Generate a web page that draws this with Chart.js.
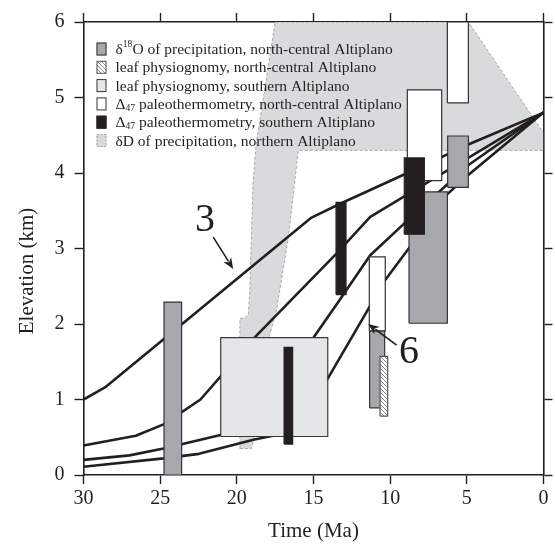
<!DOCTYPE html>
<html>
<head>
<meta charset="utf-8">
<script src="https://cdn.jsdelivr.net/npm/chart.js@4.4.1/dist/chart.umd.min.js"></script>
<style>
  html, body { margin: 0; padding: 0; background: #fff; }
  #wrap { width: 555px; height: 549px; }
</style>
</head>
<body>
<div id="wrap"><canvas id="elevChart" width="555" height="549"></canvas></div>
<script>
// ages in Ma, elevations in km
const ageTicks = [30, 25, 20, 15, 10, 5, 0];
const elevTicks = [0, 1, 2, 3, 4, 5, 6];

// modelled uplift paths, top one is labelled "3", the one at the white box "6"
const pathAAge  = [30, 28.6, 15.13, 13.3, 9.09, 4.87, 0];
const pathAElev = [1.0, 1.16, 3.41, 3.59, 3.98, 4.38, 4.8];
const pathBAge  = [30, 26.59, 24.78, 22.37, 18.85, 13.52, 11.3, 0];
const pathBElev = [0.39, 0.52, 0.67, 1.0, 1.82, 2.93, 3.42, 4.8];
const pathCAge  = [30, 27, 24.78, 21.06, 15.03, 13.42, 11.3, 9.09, 4.87, 0];
const pathCElev = [0.2, 0.26, 0.35, 0.53, 1.81, 2.28, 2.91, 3.33, 4.11, 4.8];
const pathDAge  = [30, 24.78, 22.47, 18.85, 17.64, 14.12, 10.3, 8.79, 6.27, 4.87, 0];
const pathDElev = [0.11, 0.22, 0.28, 0.47, 0.52, 1.26, 2.59, 3.0, 3.72, 3.98, 4.8];

// proxy estimates: [older age, younger age, low elev, high elev]
const d18oNorthCentral = [[24.75, 23.6, 0, 2.29], [11.34, 10.36, 0.89, 1.91], [8.77, 6.27, 2.01, 3.75], [6.25, 4.9, 3.81, 4.49]];
const leafNorthCentral = [[10.66, 10.16, 0.78, 1.57]];
const leafSouthern     = [[21.05, 14.07, 0.51, 1.82]];
const d47NorthCentral  = [[11.36, 10.32, 1.91, 2.89], [8.88, 6.64, 3.90, 5.10], [6.27, 4.9, 4.93, 6.0]];
const d47Southern      = [[16.92, 16.36, 0.41, 1.69], [13.53, 12.88, 2.39, 3.61], [9.08, 7.77, 3.19, 4.20]];

// dD of precipitation envelope, upper and lower edges
const dDTopAge   = [19.8, 19.8, 19.45, 19.25, 19.15, 18.95, 18.75, 17.5, 4.9, 0];
const dDTopElev  = [0.35, 2.07, 2.09, 2.11, 2.46, 3.83, 4.37, 6.0, 6.0, 4.53];
const dDBaseAge  = [19.8, 19.05, 18.85, 17.9, 17.4, 16.64, 15.99, 0];
const dDBaseElev = [0.35, 0.35, 0.5, 1.82, 2.2, 3.15, 4.30, 4.30];

// path labels with their arrows (age, elev)
const pathNames = ['3', '6'];
const nameAt    = [[22.08, 3.37], [8.77, 1.62]];
const arrowFrom = [[21.54, 3.15], [9.58, 1.72]];
const arrowTo   = [[20.24, 2.73], [11.43, 2.0]];

const legendRows = [
  [['δ', ''], ['18', 'sup'], ['O of precipitation, north-central Altiplano', '']],
  [['leaf physiognomy, north-central Altiplano', '']],
  [['leaf physiognomy, southern Altiplano', '']],
  [['Δ', ''], ['47', 'sub'], [' paleothermometry, north-central Altiplano', '']],
  [['Δ', ''], ['47', 'sub'], [' paleothermometry, southern Altiplano', '']],
  [['δD of precipitation, northern Altiplano', '']]
];

const INK = '#231f20';
const SERIF = "'Liberation Serif', 'DejaVu Serif', serif";

const canvas = document.getElementById('elevChart');
const ctx = canvas.getContext('2d');

function makeHatch() {
  const c = document.createElement('canvas');
  c.width = 4; c.height = 4;
  const g = c.getContext('2d');
  g.fillStyle = '#fff';
  g.fillRect(0, 0, 4, 4);
  g.strokeStyle = '#8c8c8c';
  g.lineWidth = 1;
  g.beginPath();
  g.moveTo(0, 0); g.lineTo(4, 4);
  g.moveTo(-1, 3); g.lineTo(1, 5);
  g.moveTo(3, -1); g.lineTo(5, 1);
  g.stroke();
  return ctx.createPattern(c, 'repeat');
}
const hatch = makeHatch();

const styles = {
  d18o:  { fill: '#a7a8ab', edge: '#333' },
  leafN: { fill: hatch, edge: '#555' },
  leafS: { fill: '#e5e6e7', edge: '#3a3a3a' },
  d47N:  { fill: '#ffffff', edge: '#333' },
  d47S:  { fill: INK, edge: INK },
  dD:    { fill: '#d9dadc', edge: '#a8a8aa' }
};

const pts = (xs, ys) => xs.map((v, i) => ({ x: v, y: ys[i] }));

const datasets = [];
const base = { xAxisID: 'x', yAxisID: 'y', pointRadius: 0, pointHitRadius: 0, tension: 0 };

datasets.push(Object.assign({}, base, {
  data: pts(dDTopAge, dDTopElev), fill: '+1',
  backgroundColor: styles.dD.fill, borderColor: styles.dD.edge,
  borderWidth: 1, borderDash: [3, 2], order: 1000
}));
datasets.push(Object.assign({}, base, {
  data: pts(dDBaseAge, dDBaseElev), fill: false,
  borderColor: styles.dD.edge, borderWidth: 1, borderDash: [3, 2], order: 999
}));

[[pathAAge, pathAElev], [pathBAge, pathBElev], [pathCAge, pathCElev], [pathDAge, pathDElev]].forEach(p => {
  datasets.push(Object.assign({}, base, {
    data: pts(p[0], p[1]), fill: false,
    borderColor: INK, borderWidth: 2.6, borderJoinStyle: 'round', order: 500
  }));
});

// boxes, drawn bottom to top in this order
const boxGroups = [
  [leafSouthern, styles.leafS],
  [d18oNorthCentral, styles.d18o],
  [d47NorthCentral, styles.d47N],
  [leafNorthCentral, styles.leafN],
  [d47Southern, styles.d47S]
];
let z = 400;
boxGroups.forEach(([list, st]) => {
  list.forEach(([a0, a1, e0, e1]) => {
    datasets.push(Object.assign({}, base, {
      data: [{ x: a0, y: e1 }, { x: a1, y: e1 }],
      fill: { value: e0 }, backgroundColor: st.fill,
      borderWidth: 0, borderColor: 'rgba(0,0,0,0)', order: z--
    }));
    datasets.push(Object.assign({}, base, {
      data: [{ x: a0, y: e0 }, { x: a0, y: e1 }, { x: a1, y: e1 }, { x: a1, y: e0 }, { x: a0, y: e0 }],
      fill: false, borderColor: st.edge, borderWidth: 1.2, order: z--
    }));
  });
});

function drawRuns(c, runs, x, y, size) {
  let cx = x;
  runs.forEach(([txt, kind]) => {
    const s = kind ? size * 0.62 : size;
    c.font = s + 'px ' + SERIF;
    const dy = kind === 'sup' ? -size * 0.36 : kind === 'sub' ? size * 0.22 : 0;
    c.fillText(txt, cx, y + dy);
    cx += c.measureText(txt).width;
  });
}

const overlay = {
  id: 'overlay',
  afterDatasetsDraw(chart) {
    const c = chart.ctx;
    const sx = chart.scales.x, sy = chart.scales.y;
    c.save();
    c.fillStyle = INK;
    c.strokeStyle = INK;

    // path labels and arrows
    pathNames.forEach((name, i) => {
      c.font = '40px ' + SERIF;
      c.textAlign = 'center';
      c.textBaseline = 'middle';
      c.fillText(name, sx.getPixelForValue(nameAt[i][0]), sy.getPixelForValue(nameAt[i][1]));
      const x0 = sx.getPixelForValue(arrowFrom[i][0]), y0 = sy.getPixelForValue(arrowFrom[i][1]);
      const x1 = sx.getPixelForValue(arrowTo[i][0]), y1 = sy.getPixelForValue(arrowTo[i][1]);
      const ang = Math.atan2(y1 - y0, x1 - x0);
      const hl = 11, hw = 4.5;
      c.lineWidth = 1.6;
      c.beginPath();
      c.moveTo(x0, y0);
      c.lineTo(x1 - Math.cos(ang) * hl * 0.8, y1 - Math.sin(ang) * hl * 0.8);
      c.stroke();
      c.beginPath();
      c.moveTo(x1, y1);
      c.lineTo(x1 - Math.cos(ang) * hl - Math.sin(ang) * hw, y1 - Math.sin(ang) * hl + Math.cos(ang) * hw);
      c.lineTo(x1 - Math.cos(ang) * hl * 0.7, y1 - Math.sin(ang) * hl * 0.7);
      c.lineTo(x1 - Math.cos(ang) * hl + Math.sin(ang) * hw, y1 - Math.sin(ang) * hl - Math.cos(ang) * hw);
      c.closePath();
      c.fill();
    });

    // legend
    const keyStyles = [styles.d18o, styles.leafN, styles.leafS, styles.d47N, styles.d47S, styles.dD];
    const lx = chart.chartArea.left + 13, top = chart.chartArea.top + 27, step = 18.3;
    c.textAlign = 'left';
    c.textBaseline = 'middle';
    legendRows.forEach((runs, i) => {
      const cy = top + i * step;
      const st = keyStyles[i];
      c.fillStyle = st.fill;
      c.fillRect(lx, cy - 6.5, 10, 13);
      c.lineWidth = 1;
      c.strokeStyle = st.edge;
      c.setLineDash(i === 5 ? [2, 1.5] : []);
      c.strokeRect(lx + 0.5, cy - 6, 9, 12);
      c.setLineDash([]);
      c.fillStyle = INK;
      drawRuns(c, runs, lx + 19, cy + 1, 15.5);
    });

    // axis titles
    c.font = '21px ' + SERIF;
    c.textAlign = 'center';
    c.textBaseline = 'middle';
    c.fillText('Time (Ma)', (chart.chartArea.left + chart.chartArea.right) / 2, 531);
    c.translate(27, 271);
    c.rotate(-Math.PI / 2);
    c.fillText('Elevation (km)', 0, 0);
    c.restore();
  }
};

const tickFont = { family: SERIF, size: 20 };
const edge = { color: INK, width: 1.6 };
const gridOut = { drawOnChartArea: false, tickLength: 9, tickWidth: 1.4, tickColor: INK };

new Chart(ctx, {
  type: 'line',
  data: { datasets: datasets },
  options: {
    responsive: false,
    animation: false,
    events: [],
    layout: { padding: 0 },
    plugins: { legend: { display: false }, tooltip: { enabled: false } },
    scales: {
      x: {
        type: 'linear', position: 'bottom', reverse: true, min: 0, max: 30,
        afterBuildTicks: s => { s.ticks = ageTicks.map(v => ({ value: v })); },
        afterFit: s => { s.height = 74; },
        grid: gridOut, border: edge,
        ticks: { color: INK, font: tickFont, padding: 3, maxRotation: 0 }
      },
      xTop: {
        type: 'linear', position: 'top', reverse: true, min: 0, max: 30,
        afterBuildTicks: s => { s.ticks = ageTicks.map(v => ({ value: v })); },
        afterFit: s => { s.height = 15; },
        grid: gridOut, border: edge, ticks: { display: false }
      },
      y: {
        type: 'linear', position: 'left', min: 0, max: 6,
        afterBuildTicks: s => { s.ticks = elevTicks.map(v => ({ value: v })); },
        afterFit: s => { s.width = 83.5; },
        grid: gridOut, border: edge,
        ticks: { color: INK, font: tickFont, padding: 10 }
      },
      yRight: {
        type: 'linear', position: 'right', min: 0, max: 6,
        afterBuildTicks: s => { s.ticks = elevTicks.map(v => ({ value: v })); },
        afterFit: s => { s.width = 11.5; },
        grid: gridOut, border: edge, ticks: { display: false }
      }
    }
  },
  plugins: [overlay]
});
</script>
</body>
</html>
